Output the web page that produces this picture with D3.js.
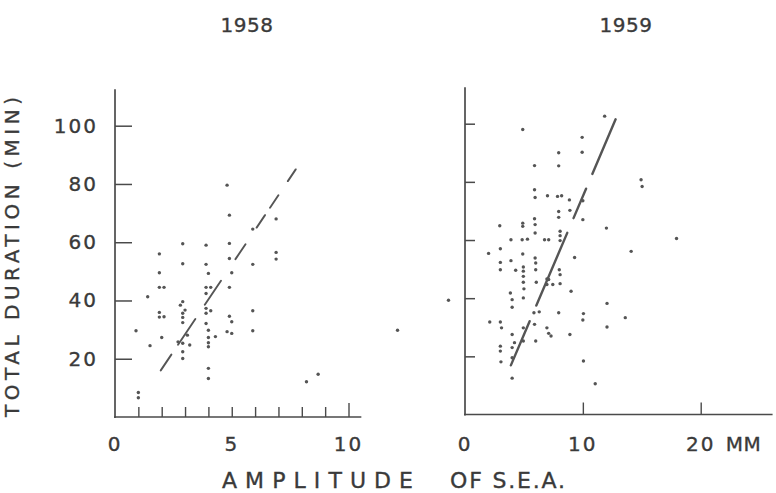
<!DOCTYPE html>
<html>
<head>
<meta charset="utf-8">
<script src="https://cdn.jsdelivr.net/npm/d3@7/dist/d3.min.js"></script>
<style>
  html, body { margin: 0; padding: 0; background: #fff; }
  svg { display: block; }
  text { font-family: "DejaVu Sans", sans-serif; fill: #3a3a3a; stroke: #3a3a3a; stroke-width: 0.35px; }
</style>
</head>
<body>
<svg id="chart" width="776" height="493"></svg>
<script>
// ---------- data ----------
const panelTitles = ["1958", "1959"];
const yTicks = [20, 40, 60, 80, 100];
const xTicks1958 = [1, 2, 3, 4, 5, 6, 7, 8, 9, 10];
const xLabels1958 = [0, 5, 10];
const xTicks1959 = [10, 20];
const xLabels1959 = [0, 10, 20];
const yAxisTitle = "TOTAL DURATION (MIN)";
const xAxisTitleA = "AMPLITUDE";
const xAxisTitleB = "OF S.E.A.";
const unitLabel = "MM";

// 1958: amplitude (mm) and total duration (min)
const amp1958 = [0.9,1.4,1.5,1.0,1.0,1.9,1.9,1.9,2.1,1.9,1.9,2.1,2.0,
  2.9,2.9,2.9,2.8,3.0,2.9,2.9,2.9,3.1,2.7,2.9,3.2,2.9,2.9,
  3.9,3.9,4.0,3.9,4.1,3.9,3.9,4.1,3.9,3.9,4.0,4.3,4.0,4.0,4.0,4.0,4.0,
  4.8,4.9,4.9,4.9,5.0,4.9,4.9,5.0,4.8,5.0,
  5.9,5.9,5.9,5.9,6.9,6.9,6.9,8.2,8.7,12.1];
const dur1958 = [29.6,41.3,24.5,8.4,6.6,56,49.5,44.5,44.5,35.9,34.3,34.4,27.3,
  59.5,52.6,39.6,38.4,36.7,35.6,34.2,32.4,28.1,25.8,25.3,24.7,22.4,20.1,
  59.0,52.4,49.3,44.5,44.5,42.4,37.3,36.5,35.6,32.1,29.8,27.6,27.3,25.5,24.1,16.7,13.2,
  79.6,69.3,59.6,54.4,49.5,44.5,34.6,32.7,29.3,28.7,
  64.5,52.4,36.5,29.6,68,56.5,54.2,12.1,14.7,29.8];

// 1959
const amp1959 = [2.0,2.1,2.95,3.0,3.0,3.0,3.0,3.1,3.0,3.0,3.05,
  3.9,3.9,3.85,4.0,4.0,4.0,4.2,4.0,4.0,4.0,
  4.9,4.9,4.9,4.85,5.3,4.9,4.3,4.95,4.95,4.95,4.95,5.0,4.95,4.95,4.95,
  5.9,5.9,5.95,5.9,5.95,5.95,5.95,6.0,6.0,6.05,5.85,6.3,5.9,6.0,
  6.75,7.1,6.95,7.1,6.95,7.45,7.0,6.95,7.1,7.3,
  7.95,7.95,7.85,8.2,7.95,7.95,8.07,8.07,8.07,8.0,8.07,8.07,7.95,
  8.86,8.9,9.3,9.0,8.9,
  9.94,9.94,10.0,10.0,10.05,10.0,10.05,11.05,
  11.85,12.0,12.05,12.05,13.6,14.1,14.94,15.03,17.95,-1.4];
const dur1959 = [55.4,31.8,64.9,57.0,52.3,49.8,31.8,29.8,23.5,21.8,18.1,
  60.1,52.9,41.8,39.5,36.9,27.5,24.7,23,19.5,12.5,
  98,65.8,64.7,60.1,60.3,55.2,49.6,50.7,49.3,47.5,45.5,43.2,40.1,29.8,25.3,
  85.6,77.3,74.6,67.3,65.3,62.4,53.8,52.1,49.8,45.5,35,35.3,31,25.3,
  60.1,60.1,46.6,46.4,44.7,44.7,75.2,29.8,27.9,27,
  90,85.5,75,75.2,69.8,67.8,63,61.5,59.8,49.8,48.1,45,35,
  73.8,70.2,54,42.4,27.5,
  95.3,90.2,73.5,67,34.7,32.5,18.4,10.6,
  102.6,64.1,38.2,30.1,33.3,56.1,80.7,78.4,60.5,39.3];

// fitted (dashed) lines: end points
const fit1958Amp = [1.96, 7.74];
const fit1958Dur = [16.0, 85.0];
const fit1959Amp = [3.89, 12.78];
const fit1959Dur = [16.9, 101.5];

// ---------- drawing ----------
const svg = d3.select("#chart");
const ink = "#4a4a4a";

const xL = d3.scaleLinear().domain([0, 10]).range([115, 348.5]);
const yL = d3.scaleLinear().domain([0, 100]).range([417, 125.7]);
const xR = d3.scaleLinear().domain([0, 20]).range([465, 700.7]);
const yR = d3.scaleLinear().domain([0, 100]).range([414.5, 123.7]);

function panel(g, x, y, opt) {
  g.append("line").attr("x1", x(0)).attr("x2", x(0))
    .attr("y1", y(0) + 1).attr("y2", y(opt.yTop))
    .attr("stroke", ink).attr("stroke-width", 1.7);
  g.append("line").attr("x1", x(0) - 1).attr("x2", x(opt.xEnd))
    .attr("y1", y(0)).attr("y2", y(0))
    .attr("stroke", ink).attr("stroke-width", 1.7);

  const ya = g.append("g").attr("transform", `translate(${x(0)},0)`)
    .call(d3.axisLeft(y).tickValues(yTicks).tickSize(-opt.yTickLen)
      .tickPadding(17).tickFormat(opt.yLabels ? d3.format("d") : () => ""));
  ya.select(".domain").remove();
  ya.selectAll("line").attr("stroke", ink).attr("stroke-width", 1.5);
  ya.selectAll("text").attr("font-size", 20).attr("letter-spacing", 2)
    .attr("font-family", "DejaVu Sans").attr("fill", "#3a3a3a");

  const xa = g.append("g").attr("transform", `translate(0,${y(0)})`)
    .call(d3.axisBottom(x).tickValues(opt.xTicks).tickSize(-opt.xTickLen).tickFormat(() => ""));
  xa.select(".domain").remove();
  xa.selectAll("line").attr("stroke", ink).attr("stroke-width", 1.4);
  if (opt.longTick !== undefined) {
    xa.selectAll(".tick").filter(d => d === opt.longTick).select("line").attr("y2", -opt.xTickLen - 4);
  }

  g.selectAll(null).data(opt.xLabels).join("text")
    .attr("x", d => x(d)).attr("y", 451)
    .attr("text-anchor", "middle").attr("font-size", 20).attr("letter-spacing", 2)
    .text(d => d);

  g.selectAll(null).data(opt.amp.map((a, i) => [a, opt.dur[i]])).join("circle")
    .attr("cx", d => x(d[0])).attr("cy", d => y(d[1]))
    .attr("r", 1.7).attr("fill", "#555");

  g.append("line")
    .attr("x1", x(opt.fitA[0])).attr("y1", y(opt.fitD[0]))
    .attr("x2", x(opt.fitA[1])).attr("y2", y(opt.fitD[1]))
    .attr("stroke", "#555").attr("stroke-width", opt.fitW)
    .attr("stroke-linecap", "round")
    .attr("stroke-dasharray", opt.dash);

  g.append("text").attr("x", opt.titleX).attr("y", 32)
    .attr("text-anchor", "middle").attr("font-size", 20).attr("letter-spacing", 0.5)
    .text(opt.title);
}

panel(svg.append("g"), xL, yL, {
  yTop: 112.5, xEnd: 10.55, yTickLen: 17, xTickLen: 10, longTick: 10,
  yLabels: true, xTicks: xTicks1958, xLabels: xLabels1958,
  amp: amp1958, dur: dur1958, fitA: fit1958Amp, fitD: fit1958Dur,
  fitW: 1.9, dash: "19,12,31,17,29,26,18,20,15,9,15,17,16,40", title: panelTitles[0], titleX: 247
});
panel(svg.append("g"), xR, yR, {
  yTop: 112.5, xEnd: 26.1, yTickLen: 10, xTickLen: 12,
  yLabels: false, xTicks: xTicks1959, xLabels: xLabels1959,
  amp: amp1959, dur: dur1959, fitA: fit1959Amp, fitD: fit1959Dur,
  fitW: 2.4, dash: "48,17,79,16,32,16,70,40", title: panelTitles[1], titleX: 626
});

svg.append("text").attr("x", xR(20) + 25).attr("y", 451)
  .attr("font-size", 20).attr("letter-spacing", 0.5).text(unitLabel);

svg.append("text").attr("x", 222).attr("y", 488)
  .attr("font-size", 22).attr("textLength", 191).attr("lengthAdjust", "spacing")
  .text(xAxisTitleA);
svg.append("text").attr("x", 450).attr("y", 488)
  .attr("font-size", 22).attr("textLength", 115).attr("lengthAdjust", "spacing")
  .text(xAxisTitleB);

svg.append("text")
  .attr("transform", "translate(19,417) rotate(-90)")
  .attr("font-size", 20).attr("textLength", 320).attr("lengthAdjust", "spacing")
  .text(yAxisTitle);
</script>
</body>
</html>
